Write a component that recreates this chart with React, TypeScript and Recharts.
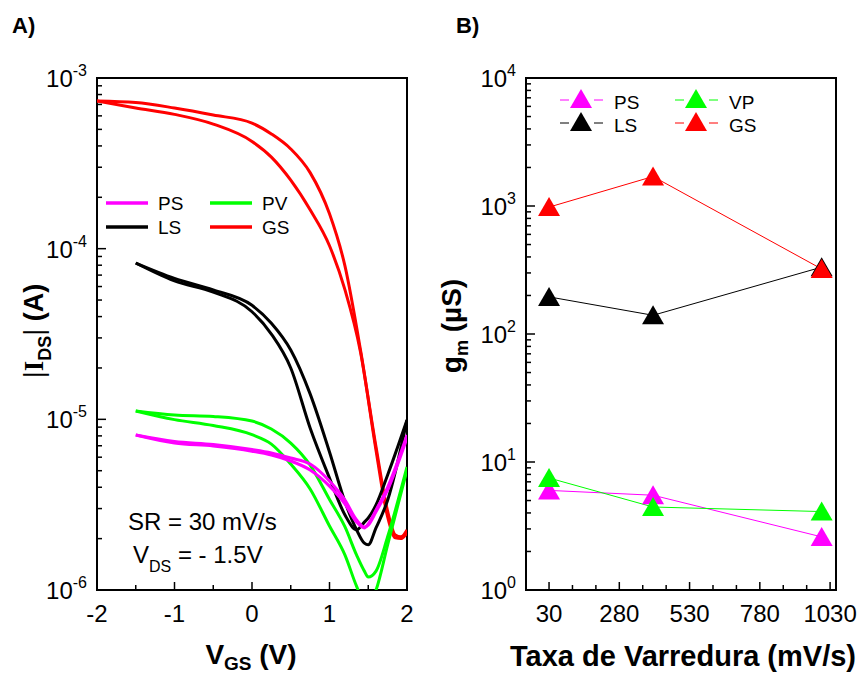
import { Line, LineChart, ReferenceArea, XAxis, YAxis } from "recharts"

const FONT = "'Liberation Sans', Arial, Helvetica, sans-serif"

// A) transfer curves |I_DS| (A) vs V_GS (V); every device has two sweep branches
const vgs = [-1.5, -1, -0.5, 0, 0.25, 0.5, 0.75, 1, 1.2, 1.35, 1.45, 1.5, 1.6, 1.75, 2]
const psBranchA = [8.09e-6, 7.41e-6, 7.12e-6, 6.65e-6, 6.35e-6, 5.93e-6, 5.47e-6, 4.35e-6, 3.36e-6, 2.57e-6, 2.34e-6, 2.4e-6, 2.87e-6, 3.86e-6, 7.79e-6]
const psBranchB = [8.09e-6, 7.26e-6, 6.98e-6, 6.51e-6, 6.18e-6, 5.7e-6, 5.05e-6, 4.06e-6, 3.19e-6, 2.5e-6, 2.31e-6, 2.44e-6, 2.94e-6, 4.0e-6, 8.09e-6]
const pvBranchA = [1.12e-5, 1.06e-5, 1.04e-5, 9.77e-6, 8.77e-6, 7.26e-6, 5.39e-6, 3.39e-6, 2.34e-6, 1.6e-6, 1.29e-6, 1.19e-6, 1.29e-6, 2.05e-6, 5.26e-6]
const pvBranchB = [1.12e-5, 9.96e-6, 9.2e-6, 8.13e-6, 7.16e-6, 5.47e-6, 3.91e-6, 2.37e-6, 1.6e-6, 1.05e-6, 8.4e-7, 8.3e-7, 1.0e-6, 1.84e-6, 5.05e-6]
const lsBranchA = [8.24e-5, 6.7e-5, 5.73e-5, 4.66e-5, 3.66e-5, 2.55e-5, 1.41e-5, 6.44e-6, 3.28e-6, 2.25e-6, 1.88e-6, 1.84e-6, 2.31e-6, 3.36e-6, 9.9e-6]
const lsBranchB = [8.24e-5, 6.47e-5, 5.57e-5, 4.27e-5, 3.16e-5, 2.0e-5, 8.9e-6, 4.53e-6, 2.75e-6, 2.25e-6, 2.5e-6, 2.64e-6, 3.15e-6, 4.72e-6, 9.9e-6]

const gsVgs = [-2, -1.5, -1, -0.5, 0, 0.25, 0.5, 0.75, 1, 1.2, 1.4, 1.6, 1.75, 1.85, 1.92, 2]
const gsBranchA = [7.33e-4, 7.18e-4, 6.67e-4, 6.07e-4, 5.44e-4, 4.7e-4, 3.84e-4, 2.79e-4, 1.6e-4, 7.9e-5, 2.55e-5, 6.9e-6, 2.9e-6, 2.1e-6, 2.05e-6, 2.25e-6]
const gsBranchB = [7.33e-4, 6.68e-4, 6.12e-4, 5.37e-4, 4.25e-4, 3.44e-4, 2.52e-4, 1.69e-4, 1.04e-4, 5.73e-5, 2.48e-5, 6.6e-6, 2.68e-6, 2.02e-6, 2.0e-6, 2.16e-6]

const vgsTicks = [-2, -1, 0, 1, 2]
const idsDecades = [1e-6, 1e-5, 1e-4, 1e-3]

// B) transconductance g_m (µS) vs scan rate (mV/s)
const scanRates = [30, 400, 1000]
const psGm = [6.0, 5.5, 2.6]
const vpGm = [7.5, 4.45, 4.1]
const lsGm = [195, 140, 333]
const gsGm = [980, 1700, 322]

const rateTicks = [30, 280, 530, 780, 1030]
const gmDecades = [1, 10, 100, 1000, 10000]

const MAGENTA = "#ff00ff"
const GREEN = "#00ff00"
const RED = "#ff0000"
const BLACK = "#000000"

const sweep = (x: number[], y: number[]) => x.map((v, i) => ({ vgs: v, ids: y[i] }))
const rateSeries = (y: number[]) => scanRates.map((r, i) => ({ rate: r, gm: y[i] }))

// 2..9 minor ticks inside every decade
function logTicks(decades: number[]) {
  const out: number[] = []
  decades.forEach((d, i) => {
    out.push(d)
    if (i < decades.length - 1) for (let m = 2; m <= 9; m++) out.push(d * m)
  })
  return out
}

// minor ticks between major ticks
function linTicks(majors: number[], parts: number) {
  const out: number[] = []
  majors.forEach((m, i) => {
    out.push(m)
    if (i < majors.length - 1) {
      const step = (majors[i + 1] - m) / parts
      for (let k = 1; k < parts; k++) out.push(m + step * k)
    }
  })
  return out
}

const isDecade = (v: number) => {
  const e = Math.log10(v)
  return Math.abs(e - Math.round(e)) < 1e-6
}

function LogYTick(props: any) {
  const { x = 0, y = 0, payload } = props
  const v = payload?.value ?? 1
  const major = isDecade(v)
  return (
    <g>
      <line x1={x} x2={x + (major ? 9 : 5)} y1={y} y2={y} stroke={BLACK} strokeWidth={1.5} />
      {major && (
        <text x={x - 10} y={y + 9} textAnchor="end" fontFamily={FONT} fontSize={24} fill={BLACK}>
          10
          <tspan dy={-11} fontSize={16}>
            {String(Math.round(Math.log10(v)))}
          </tspan>
        </text>
      )}
    </g>
  )
}

function makeXTick(majors: number[]) {
  return (props: any) => {
    const { x = 0, y = 0, payload } = props
    const v = payload?.value ?? 0
    const major = majors.some((m) => Math.abs(m - v) < 1e-6)
    return (
      <g>
        <line x1={x} x2={x} y1={y} y2={y - (major ? 8 : 5)} stroke={BLACK} strokeWidth={1.5} />
        {major && (
          <text x={x} y={y + 32} textAnchor="middle" fontFamily={FONT} fontSize={24} fill={BLACK}>
            {String(v)}
          </text>
        )}
      </g>
    )
  }
}

function triangleDot(color: string) {
  return (p: any) => {
    const { cx, cy, index } = p
    if (cx == null || cy == null) return <g key={`t-${index}`} />
    return (
      <polygon
        key={`t-${index}`}
        points={`${cx},${cy - 10} ${cx - 11},${cy + 9} ${cx + 11},${cy + 9}`}
        fill={color}
      />
    )
  }
}

function Triangle({ cx, cy, color }: { cx: number; cy: number; color: string }) {
  return <polygon points={`${cx},${cy - 10} ${cx - 11},${cy + 9} ${cx + 11},${cy + 9}`} fill={color} />
}

const transferLines = [
  { key: "gs-a", data: sweep(gsVgs, gsBranchA), color: RED },
  { key: "gs-b", data: sweep(gsVgs, gsBranchB), color: RED },
  { key: "ls-a", data: sweep(vgs, lsBranchA), color: BLACK },
  { key: "ls-b", data: sweep(vgs, lsBranchB), color: BLACK },
  { key: "pv-a", data: sweep(vgs, pvBranchA), color: GREEN },
  { key: "pv-b", data: sweep(vgs, pvBranchB), color: GREEN },
  { key: "ps-a", data: sweep(vgs, psBranchA), color: MAGENTA },
  { key: "ps-b", data: sweep(vgs, psBranchB), color: MAGENTA },
]

const gmLines = [
  { key: "PS", data: rateSeries(psGm), color: MAGENTA },
  { key: "VP", data: rateSeries(vpGm), color: GREEN },
  { key: "LS", data: rateSeries(lsGm), color: BLACK },
  { key: "GS", data: rateSeries(gsGm), color: RED },
]

function TransferChart() {
  return (
    <LineChart width={430} height={676} margin={{ top: 78, right: 23, bottom: 46, left: 37 }}>
      <XAxis
        dataKey="vgs"
        type="number"
        domain={[-2, 2]}
        allowDataOverflow
        ticks={linTicks(vgsTicks, 2)}
        interval={0}
        height={40}
        axisLine={false}
        tickLine={false}
        tickSize={0}
        tickMargin={0}
        tick={makeXTick(vgsTicks)}
      />
      <YAxis
        type="number"
        scale="log"
        domain={[1e-6, 1e-3]}
        allowDataOverflow
        ticks={logTicks(idsDecades)}
        interval={0}
        width={60}
        axisLine={false}
        tickLine={false}
        tickSize={0}
        tickMargin={0}
        tick={LogYTick}
      />
      {transferLines.map((s) => (
        <Line
          key={s.key}
          data={s.data}
          dataKey="ids"
          type="monotone"
          stroke={s.color}
          strokeWidth={3}
          dot={false}
          activeDot={false}
          isAnimationActive={false}
        />
      ))}
      <ReferenceArea x1={-2} x2={2} y1={1e-6} y2={1e-3} fill="none" stroke={BLACK} strokeWidth={2} ifOverflow="visible" />
    </LineChart>
  )
}

function GmChart() {
  return (
    <LineChart width={431} height={676} margin={{ top: 78, right: 25, bottom: 46, left: 36 }}>
      <XAxis
        dataKey="rate"
        type="number"
        domain={[-52, 1051]}
        ticks={linTicks(rateTicks, 3)}
        interval={0}
        height={40}
        axisLine={false}
        tickLine={false}
        tickSize={0}
        tickMargin={0}
        tick={makeXTick(rateTicks)}
      />
      <YAxis
        type="number"
        scale="log"
        domain={[1, 10000]}
        ticks={logTicks(gmDecades)}
        interval={0}
        width={60}
        axisLine={false}
        tickLine={false}
        tickSize={0}
        tickMargin={0}
        tick={LogYTick}
      />
      {gmLines.map((s) => (
        <Line
          key={s.key}
          data={s.data}
          dataKey="gm"
          type="linear"
          stroke={s.color}
          strokeWidth={1}
          dot={triangleDot(s.color)}
          activeDot={false}
          isAnimationActive={false}
        />
      ))}
      <ReferenceArea x1={-52} x2={1051} y1={1} y2={10000} fill="none" stroke={BLACK} strokeWidth={2} ifOverflow="visible" />
    </LineChart>
  )
}

const legendA = [
  { name: "PS", color: MAGENTA, x: 106, y: 203 },
  { name: "PV", color: GREEN, x: 210, y: 203 },
  { name: "LS", color: BLACK, x: 106, y: 227 },
  { name: "GS", color: RED, x: 210, y: 227 },
]

const legendB = [
  { name: "PS", color: MAGENTA, x: 560, y: 100 },
  { name: "VP", color: GREEN, x: 675, y: 100 },
  { name: "LS", color: BLACK, x: 560, y: 123 },
  { name: "GS", color: RED, x: 675, y: 123 },
]

function Overlay() {
  return (
    <svg width={861} height={676} style={{ position: "absolute", left: 0, top: 0, pointerEvents: "none" }}>
      <g fontFamily={FONT} fill={BLACK}>
        <text x={12} y={33} fontSize={22} fontWeight="bold">A)</text>
        <text x={456} y={33} fontSize={22} fontWeight="bold">B)</text>

        {legendA.map((l) => (
          <g key={l.name}>
            <line x1={l.x} x2={l.x + 42} y1={l.y} y2={l.y} stroke={l.color} strokeWidth={3.5} />
            <text x={l.x + 52} y={l.y + 7} fontSize={19}>{l.name}</text>
          </g>
        ))}

        {legendB.map((l) => (
          <g key={l.name}>
            <line x1={l.x} x2={l.x + 9} y1={l.y} y2={l.y} stroke={l.color} strokeWidth={1} />
            <line x1={l.x + 34} x2={l.x + 43} y1={l.y} y2={l.y} stroke={l.color} strokeWidth={1} />
            <Triangle cx={l.x + 21} cy={l.y - 1} color={l.color} />
            <text x={l.x + 54} y={l.y + 9} fontSize={19}>{l.name}</text>
          </g>
        ))}

        <text x={128} y={530} fontSize={24}>SR = 30 mV/s</text>
        <text x={133} y={563} fontSize={24}>
          V
          <tspan fontSize={16} dy={9}>DS</tspan>
          <tspan dy={-9}> = - 1.5V</tspan>
        </text>

        <text transform="translate(43 331) rotate(-90)" textAnchor="middle" fontSize={27} fontWeight="bold">
          <tspan fontWeight="normal">|</tspan>
          <tspan fontFamily="'Liberation Serif', serif">I</tspan>
          <tspan fontSize={18} dy={8}>DS</tspan>
          <tspan fontWeight="normal" dy={-8}>|</tspan>
          <tspan> (A)</tspan>
        </text>
        <text x={251} y={664} textAnchor="middle" fontSize={28} fontWeight="bold">
          V
          <tspan fontSize={19} dy={6}>GS</tspan>
          <tspan dy={-6}> (V)</tspan>
        </text>

        <text transform="translate(461 326) rotate(-90)" textAnchor="middle" fontSize={28} fontWeight="bold">
          g
          <tspan fontSize={18} dy={7}>m</tspan>
          <tspan dy={-7}> (µS)</tspan>
        </text>
        <text x={683} y={666} textAnchor="middle" fontSize={29} fontWeight="bold">
          Taxa de Varredura (mV/s)
        </text>
      </g>
    </svg>
  )
}

export default function App() {
  return (
    <div style={{ position: "absolute", left: 0, top: 0, width: 861, height: 676, background: "#fff" }}>
      <div style={{ position: "absolute", left: 0, top: 0 }}>
        <TransferChart />
      </div>
      <div style={{ position: "absolute", left: 430, top: 0 }}>
        <GmChart />
      </div>
      <Overlay />
    </div>
  )
}
